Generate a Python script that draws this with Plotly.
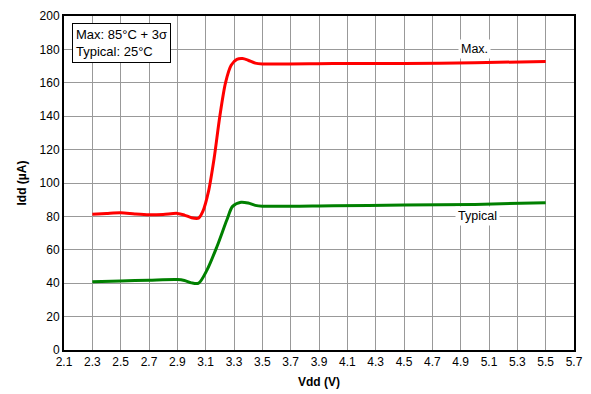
import plotly.graph_objects as go

# Data
vdd_max = [2.3, 2.4, 2.5, 2.6, 2.7, 2.8, 2.9, 2.95, 3.0, 3.05, 3.08, 3.12, 3.16, 3.2, 3.24, 3.28, 3.32, 3.36, 3.4, 3.45, 3.5, 4.0, 4.5, 5.0, 5.5]
idd_max = [81.3, 81.8, 82.2, 81.5, 81.0, 81.2, 81.8, 80.8, 79.2, 79.0, 83.0, 95.0, 115.0, 140.0, 160.0, 170.5, 174.0, 174.5, 173.5, 171.8, 171.3, 171.5, 171.6, 172.0, 172.8]

vdd_typ = [2.3, 2.5, 2.7, 2.9, 2.95, 3.0, 3.05, 3.11, 3.18, 3.25, 3.29, 3.35, 3.4, 3.45, 3.5, 4.0, 4.5, 5.0, 5.5]
idd_typ = [40.9, 41.3, 41.8, 42.2, 41.6, 40.2, 40.0, 48.0, 62.0, 78.0, 86.0, 88.5, 88.0, 86.6, 86.1, 86.4, 86.8, 87.2, 88.2]

x_ticks = [2.1, 2.3, 2.5, 2.7, 2.9, 3.1, 3.3, 3.5, 3.7, 3.9, 4.1, 4.3, 4.5, 4.7, 4.9, 5.1, 5.3, 5.5, 5.7]
y_ticks = [0, 20, 40, 60, 80, 100, 120, 140, 160, 180, 200]

font_family = "Liberation Sans, Arial, sans-serif"

fig = go.Figure()
fig.add_trace(go.Scatter(x=vdd_max, y=idd_max, mode="lines",
                         line=dict(color="#ff0000", width=3, shape="spline", smoothing=0.8),
                         showlegend=False, hoverinfo="skip"))
fig.add_trace(go.Scatter(x=vdd_typ, y=idd_typ, mode="lines",
                         line=dict(color="#008000", width=3, shape="spline", smoothing=0.8),
                         showlegend=False, hoverinfo="skip"))

fig.add_annotation(x=5.0, y=180, text="Max.", showarrow=False, bgcolor="white",
                   font=dict(family=font_family, size=12.5, color="black"), borderpad=2)
fig.add_annotation(x=5.02, y=80, text="Typical", showarrow=False, bgcolor="white",
                   font=dict(family=font_family, size=12.5, color="black"), borderpad=2)
fig.add_annotation(xref="paper", yref="paper", x=0.0157, y=0.979, xanchor="left", yanchor="top",
                   text="Max: 85°C + 3σ<br>Typical: 25°C", align="left", showarrow=False,
                   bgcolor="white", bordercolor="black", borderwidth=1, borderpad=3,
                   font=dict(family=font_family, size=13, color="black"))

fig.update_xaxes(range=[2.1, 5.7], tickvals=x_ticks, ticktext=[f"{v:.1f}" for v in x_ticks],
                 showgrid=True, gridcolor="#999999", gridwidth=1,
                 showline=True, linecolor="black", linewidth=2, mirror=True,
                 ticks="", zeroline=False, automargin=False,
                 title=dict(text="<b>Vdd (V)</b>", standoff=9, font=dict(family=font_family, size=12, color="black")),
                 tickfont=dict(family=font_family, size=12, color="black"))
fig.update_yaxes(range=[0, 200], tickvals=y_ticks,
                 showgrid=True, gridcolor="#999999", gridwidth=1,
                 showline=True, linecolor="black", linewidth=2, mirror=True,
                 ticks="", zeroline=False, automargin=False,
                 title=dict(text="<b>Idd (µA)</b>", standoff=10, font=dict(family=font_family, size=12, color="black")),
                 tickfont=dict(family=font_family, size=12, color="black"))

fig.update_layout(width=591, height=394, margin=dict(l=64, r=17, t=16, b=44),
                  plot_bgcolor="white", paper_bgcolor="white",
                  font=dict(family=font_family, size=12, color="black"))

fig.write_html("out.html", config={"displayModeBar": False},
               post_script="document.body.style.margin='0';document.body.style.padding='0';document.body.style.overflow='hidden';")
